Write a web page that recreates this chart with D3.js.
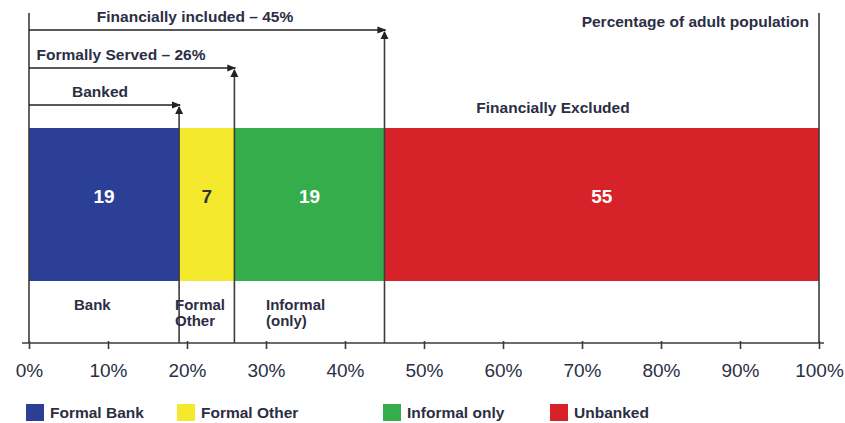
<!DOCTYPE html>
<html>
<head>
<meta charset="utf-8">
<script src="https://cdn.jsdelivr.net/npm/d3@7"></script>
<style>
  html, body { margin: 0; padding: 0; background: #fff; }
  svg text { font-family: "Liberation Sans", Arial, Helvetica, sans-serif; fill: #2b2e45; }
</style>
</head>
<body>
<svg id="chart" width="845" height="423"></svg>
<script>
// Segments of the adult population, left to right
const categories = ["Formal Bank", "Formal Other", "Informal only", "Unbanked"];
const values = [19, 7, 19, 55];
const colors = ["#2c3f97", "#f4e92c", "#35ad4b", "#d7222a"];
const valueTextColors = ["#ffffff", "#333333", "#ffffff", "#ffffff"];
const underLabels = [["Bank"], ["Formal", "Other"], ["Informal", "(only)"], []];
const tickValues = [0, 10, 20, 30, 40, 50, 60, 70, 80, 90, 100];

// Cumulative brackets drawn above the bar
const brackets = [
  { label: "Financially included \u2013 45%", upTo: 3 },
  { label: "Formally Served \u2013 26%", upTo: 2 },
  { label: "Banked", upTo: 1 }
];

const svg = d3.select("#chart");
const x = d3.scaleLinear().domain([0, 100]).range([29, 819]);
const barTop = 128, barBottom = 281, axisY = 343;
const lineColor = "#3c3c3c";

// cumulative starts/ends
let acc = 0;
const segs = values.map((v, i) => {
  const s = { i, start: acc, end: acc + v, value: v };
  acc += v;
  return s;
});

// bar segments
svg.append("g").selectAll("rect").data(segs).join("rect")
  .attr("x", d => x(d.start))
  .attr("y", barTop)
  .attr("width", d => x(d.end) - x(d.start))
  .attr("height", barBottom - barTop)
  .attr("fill", d => colors[d.i]);

// value labels in the bar
svg.append("g").selectAll("text").data(segs).join("text")
  .attr("x", d => x((d.start + d.end) / 2))
  .attr("y", barTop + (barBottom - barTop) * 0.445)
  .attr("dy", "0.36em")
  .attr("text-anchor", "middle")
  .style("font-size", "19px")
  .style("font-weight", "bold")
  .style("fill", d => valueTextColors[d.i])
  .text(d => d.value);

// x axis
const axis = d3.axisBottom(x).tickValues(tickValues).tickFormat(d => d + "%").tickSize(8).tickPadding(15);
const ag = svg.append("g").attr("transform", `translate(0,${axisY - 2})`).call(axis);
ag.select(".domain").remove();
ag.selectAll(".tick line").attr("stroke", lineColor).attr("stroke-width", 1.6);
ag.selectAll(".tick text").style("font-size", "19px").attr("fill", "#2b2e45");
svg.append("line")
  .attr("x1", x(0) - 7).attr("x2", x(100) + 5)
  .attr("y1", axisY).attr("y2", axisY)
  .attr("stroke", lineColor).attr("stroke-width", 1.6);

// arrowheads
const defs = svg.append("defs");
defs.append("marker").attr("id", "arrR")
  .attr("viewBox", "0 0 10 10").attr("refX", 9).attr("refY", 5)
  .attr("markerWidth", 9).attr("markerHeight", 9).attr("markerUnits", "userSpaceOnUse")
  .attr("orient", "auto")
  .append("path").attr("d", "M0,1 L10,5 L0,9 Z").attr("fill", "#222");

// left and right frame lines
svg.append("line").attr("x1", x(0)).attr("x2", x(0)).attr("y1", 13).attr("y2", axisY)
  .attr("stroke", lineColor).attr("stroke-width", 1.6);
svg.append("line").attr("x1", x(100)).attr("x2", x(100)).attr("y1", 13).attr("y2", axisY)
  .attr("stroke", lineColor).attr("stroke-width", 1.6);

// bracket arrows and the vertical drop lines
const bracketY = [30, 68, 105];
const bracketLabelX = [195, 121, 100];
brackets.forEach((b, k) => {
  const end = segs[b.upTo - 1].end;
  const xe = x(end);
  const y = bracketY[k];
  svg.append("line").attr("x1", x(0)).attr("x2", xe + 1).attr("y1", y).attr("y2", y)
    .attr("stroke", "#222").attr("stroke-width", 1.6).attr("marker-end", "url(#arrR)");
  svg.append("line").attr("x1", xe).attr("x2", xe).attr("y1", y + 2).attr("y2", axisY)
    .attr("stroke", lineColor).attr("stroke-width", 1.6);
  // small upward head on the drop line
  svg.append("path")
    .attr("d", `M${xe - 4},${y + 9} L${xe},${y + 1} L${xe + 4},${y + 9} Z`)
    .attr("fill", "#222");
  svg.append("text")
    .attr("x", bracketLabelX[k]).attr("y", y - 14)
    .attr("dy", "0.36em").attr("text-anchor", "middle")
    .style("font-size", "15.5px").style("font-weight", "bold")
    .text(b.label);
});

// captions
svg.append("text").attr("x", 809).attr("y", 21).attr("dy", "0.36em")
  .attr("text-anchor", "end").style("font-size", "15.5px").style("font-weight", "bold")
  .text("Percentage of adult population");
svg.append("text").attr("x", 553).attr("y", 107).attr("dy", "0.36em")
  .attr("text-anchor", "middle").style("font-size", "15.5px").style("font-weight", "bold")
  .text("Financially Excluded");

// labels under the bar
const underX = [74, 175, 266];
segs.forEach(d => {
  underLabels[d.i].forEach((line, j) => {
    svg.append("text").attr("x", underX[d.i]).attr("y", 305 + j * 16).attr("dy", "0.36em")
      .style("font-size", "15px").style("font-weight", "bold").text(line);
  });
});

// legend
const legendX = [26, 177, 383, 550];
const lg = svg.append("g").selectAll("g").data(categories).join("g")
  .attr("transform", (d, i) => `translate(${legendX[i]},404)`);
lg.append("rect").attr("width", 18).attr("height", 17).attr("fill", (d, i) => colors[i]);
lg.append("text").attr("x", 24).attr("y", 8.5).attr("dy", "0.36em")
  .style("font-size", "15.5px").style("font-weight", "bold").text(d => d);
</script>
</body>
</html>
